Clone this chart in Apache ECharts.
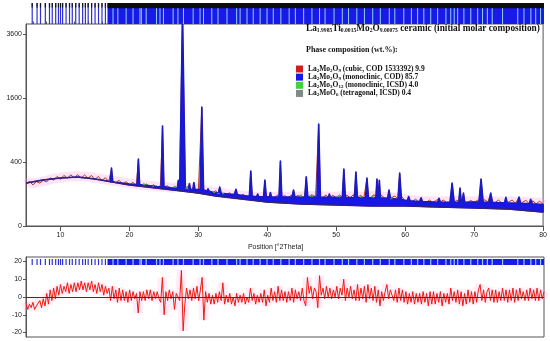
<!DOCTYPE html>
<html>
<head>
<meta charset="utf-8">
<script src="https://cdn.jsdelivr.net/npm/echarts@6.0.0/dist/echarts.min.js"></script>
<style>
html,body{margin:0;padding:0;background:#ffffff;}
#chart{width:550px;height:341px;}
</style>
</head>
<body>
<div id="chart"></div>
<script>
// ===== data =====
const xTickLabels = [10, 20, 30, 40, 50, 60, 70, 80];
const xMinorTicks = [6, 8, 12, 14, 16, 18, 22, 24, 26, 28, 32, 34, 36, 38, 42, 44, 46, 48, 52, 54, 56, 58, 62, 64, 66, 68, 72, 74, 76, 78];
const yTickLabels = [0, 400, 1600, 3600];
const diffTickLabels = [-20, -10, 0, 10, 20];

const titleFormula = 'La1.9985Ti0.0015Mo2O9.00075';
const titleText = ' ceramic (initial molar composition)';
const phaseHeading = 'Phase composition (wt.%):';
const phaseFormulas = ['La2Mo2O9', 'La2Mo2O9', 'La2Mo3O12', 'La2MoO6'];
const phaseNotes = [' (cubic, COD 1533392) 9.9', ' (monoclinic, COD) 85.7', ' (monoclinic, ICSD) 4.0', ' (tetragonal, ICSD) 0.4'];

// background curve (counts)
const bgTheta  = [5, 7.5, 10, 12.5, 15, 17.5, 20, 22.5, 25, 27.5, 30, 32.5, 35, 37.5, 40, 45, 50, 55, 60, 65, 70, 75, 80];
const bgCounts = [180, 207, 225, 234, 216, 189, 164, 149, 134, 120, 106, 88, 77, 66, 56, 47, 43, 39, 39, 35, 32, 28, 19];

// calculated profile floor between reflections (counts)
const floorTheta  = [5, 7.5, 10, 12.5, 15, 17, 18, 20, 22, 24, 26, 28.2, 30, 32, 34, 36, 38, 40, 42.5, 44.5, 46.5, 48, 50, 53.6, 55, 58.5, 60, 61.5, 63.5, 65.5, 69.5, 73.5, 75.5, 77.5, 79, 80];
const floorCounts = [180, 207, 225, 234, 216, 196, 186, 172, 163, 152, 143, 135, 130, 112, 102, 94, 86, 83, 82, 82, 82, 80, 80, 78, 77, 72, 64, 60, 57, 55, 56, 53, 51, 49, 47, 45];

// main reflections: position, calculated top, observed top, foot level, half width (deg)
const peakTheta = [17.4, 21.3, 24.8, 27.1, 27.7, 28.7, 29.35, 30.5, 31.4, 33.1, 35.45, 37.6, 38.6, 39.65, 40.45, 41.9, 43.8, 45.65, 47.45, 49.0, 51.1, 52.85, 54.45, 55.9, 56.25, 57.65, 59.2, 60.5, 62.3, 64.9, 66.8, 67.95, 68.45, 71.0, 72.4, 74.6, 76.5, 78.2];
const peakCalc  = [329, 438, 977, 205, 4400, 175, 185, 1383, 135, 148, 132, 295, 100, 207, 110, 413, 127, 234, 1016, 100, 317, 285, 225, 215, 205, 127, 274, 85, 78, 75, 180, 141, 106, 216, 106, 80, 82, 70];
const peakObs   = [320, 425, 960, 200, 4300, 170, 180, 1350, 130, 145, 128, 290, 98, 200, 108, 405, 124, 240, 1000, 98, 310, 280, 220, 210, 200, 124, 268, 82, 76, 72, 176, 138, 104, 212, 104, 78, 80, 68];
const peakBase  = [190, 168, 150, 140, 140, 132, 130, 128, 118, 105, 96, 86, 84, 82, 82, 82, 82, 82, 82, 80, 80, 78, 78, 78, 78, 75, 70, 62, 58, 55, 55, 55, 55, 56, 55, 52, 50, 48];
const peakHalf  = [0.18, 0.18, 0.2, 0.15, 0.4, 0.15, 0.15, 0.25, 0.15, 0.2, 0.2, 0.2, 0.15, 0.2, 0.15, 0.2, 0.2, 0.22, 0.25, 0.15, 0.22, 0.22, 0.22, 0.15, 0.15, 0.2, 0.25, 0.2, 0.2, 0.2, 0.3, 0.18, 0.18, 0.3, 0.25, 0.2, 0.25, 0.2];

// observed counts between reflections, 5.0 .. 80.0 deg, step 0.5
const obsStart = 5, obsStep = 0.5;
const obsCounts = [
  172, 195, 165, 192, 180, 204, 190, 226, 205, 240, 212, 250, 222, 256, 226, 258, 224, 254, 222, 250,
  210, 240, 200, 228, 192, 214, 184, 204, 172, 192, 166, 186, 158, 176, 152, 172, 148, 166, 142, 160,
  140, 158, 134, 150, 150, 170, 136, 152, 134, 150, 126, 142, 112, 130, 104, 120, 100, 116, 92, 108,
  88, 102, 84, 98, 80, 94, 78, 92, 76, 90, 76, 92, 78, 94, 76, 90, 78, 94, 76, 92,
  80, 96, 82, 94, 84, 98, 78, 94, 76, 92, 78, 94, 80, 94, 78, 96, 76, 92, 78, 94,
  80, 96, 84, 94, 76, 92, 72, 88, 70, 84, 62, 76, 58, 70, 56, 68, 52, 66, 54, 64,
  52, 66, 54, 68, 58, 66, 56, 70, 52, 64, 54, 66, 60, 68, 56, 68, 52, 66, 52, 64,
  54, 66, 50, 64, 52, 64, 50, 62, 48, 60, 46
];

// minor phases (small reflections): position, top, foot
const greenTheta = [22.1, 23.4, 26.6, 28.3, 32.3, 33.6, 44.9, 46.4, 50.3, 53.6, 55.3, 58.0];
const greenTop   = [178, 165, 158, 150, 122, 115, 96, 98, 92, 90, 90, 84];
const greenBase  = [160, 150, 142, 134, 110, 102, 82, 82, 80, 78, 77, 73];
const grayTheta = [28.4, 32.9];
const grayTop   = [142, 110];
const grayBase  = [135, 104];

// difference curve, 5.00 .. 80.00 deg, step 0.25
const diffStart = 5, diffStep = 0.25;
const diffValues = [
  -3,-7,-4,-6, -3,-7,-5,-6, -2,-6,-1,-5, 2,-4,4,-2, 5,-1,6,1,
  7,2,6,3, 8,2,7,3, 8,3,8,4, 9,4,8,3, 8,4,9,3,
  7,2,8,3, 7,1,6,2, 5,-2,6,-1, 4,-3,5,-2, 4,-2,3,-3,
  4,-2,3,-1, 2,-9,3,-2, 3,-2,4,-1, 4,-2,3,-1, 3,-1,-3,11,
  -10,3,-2,4, -1,3,-7,2, 3,-2,15,-19, -4,5,-1,4, -2,5,-1,6,
  -2,4,11,-13, 3,-3,2,-4, 1,-4,2,-3, 3,-2,8,-4, 1,-3,2,-4,
  0,-5,2,-3, 1,-3,2,-4, 0,-3,5,-2, 2,-4,1,-3, 2,-3,4,-5,
  1,-3,5,-2, 3,-3,6,-2, 4,-2,3,-3, 3,-2,5,-3, 4,-1,3,-2,
  5,-2,-5,11, 2,6,-1,5, 3,-6,12,1, 5,-1,6,0, 5,-1,4,0,
  6,-1,5,1, 10,-2,5,0, 6,-1,4,-2, 7,-2,5,-1, 6,-3,7,-1,
  5,-2,6,-3, 4,-5,3,-2, 3,7,-1,4, 5,-2,4,-3, 5,-2,4,-3,
  3,-4,2,-3, 3,-4,2,-3, 2,-4,3,-3, 2,-5,3,-4, 3,-4,2,-3,
  3,-5,2,-3, 2,-4,5,-2, 3,-3,4,-4, 3,-5,2,-4, 4,-3,3,-4,
  3,-3,4,7, -2,4,-3,3, 5,-2,4,-3, 4,-3,3,-2, 5,-2,4,-3,
  4,-2,5,-3, 4,-2,5,-1, 3,-2,4,-2, 5,-1,4,-2, 5,-2,4,-1,
  3
];

// reflection marker strips
const reflSparse = [5.9, 6.6, 7.1, 7.8, 8.4, 8.8, 9.3, 9.7, 10.0, 10.3, 10.8, 11.3, 11.7, 12.2, 12.7, 13.2, 13.6, 14.0, 14.5, 15.0, 15.5, 16.0, 16.5];
const reflDenseRange = [16.8, 80];
const reflGaps = [17.6, 18.3, 19.5, 20.5, 21.5, 21.7, 22.4, 23.9, 24.4, 24.9, 26.3, 27.0, 27.8, 29.2, 30.2, 30.7, 31.9, 32.8, 34.1, 35.5, 36.0, 37.0, 37.9, 38.9, 39.9,
  40.8, 41.9, 43.1, 44.0, 45.2, 46.4, 47.5, 48.3, 49.6, 50.8, 51.7, 52.9, 54.0, 55.2, 56.3, 57.6, 58.4, 59.7, 60.8, 61.7,
  62.6, 63.6, 64.6, 65.8, 66.5, 67.0, 67.5, 68.4, 69.4, 70.4, 71.1, 71.8, 72.5, 74.0, 76.2, 77.1, 78.1, 78.8, 79.5];

// ===== assembly =====
const sq = v => Math.sqrt(Math.max(v, 0));
function nearPeak(x) {
  return peakTheta.some((p, j) => Math.abs(x - p) <= peakHalf[j] + 1e-9);
}
const calcPts = [];
floorTheta.forEach((x, i) => { if (!nearPeak(x)) calcPts.push([x, floorCounts[i]]); });
peakTheta.forEach((p, j) => {
  calcPts.push([p - peakHalf[j], peakBase[j]], [p, peakCalc[j]], [p + peakHalf[j], peakBase[j]]);
});
calcPts.sort((a, b) => a[0] - b[0]);

const obsGrid = obsCounts.map((c, i) => [obsStart + i * obsStep, c]);
const obsPts = obsGrid.filter(p => !nearPeak(p[0]));
peakTheta.forEach((p, j) => {
  obsPts.push([p - peakHalf[j], peakBase[j]], [p, peakObs[j]], [p + peakHalf[j], peakBase[j]]);
});
obsPts.sort((a, b) => a[0] - b[0]);

function spikes(theta, top, base, hw) {
  const out = [];
  theta.forEach((p, j) => {
    out.push([p - hw, sq(base[j])], [p, sq(top[j])], [p + hw, sq(base[j])], [p + hw, null]);
  });
  return out;
}

const diffPts = diffValues.map((v, i) => [diffStart + i * diffStep, v]);

function richFormula(f, el, sub) {
  return f.replace(/([A-Z][a-z]?)([0-9.]*)/g, (m, e, n) => '{' + el + '|' + e + '}' + (n ? '{' + sub + '|' + n + '}' : ''));
}
const phaseNames = phaseFormulas.map((f, i) => f + phaseNotes[i]);
const phaseColors = ['#d41c1c', '#1616e8', '#3fd23f', '#7f8a8a'];

const serif = "'Liberation Serif', 'Times New Roman', serif";
const sans = "'Liberation Sans', Arial, sans-serif";

function tickItem(color, darkTop) {
  return function (params, api) {
    const a = api.coord([api.value(0), 1]);
    const b = api.coord([api.value(0), 0]);
    const h = b[1] - a[1];
    const kids = [{ type: 'rect', shape: { x: a[0] - 0.6, y: a[1], width: 1.2, height: h }, style: { fill: color } }];
    if (darkTop) kids.push({ type: 'rect', shape: { x: a[0] - 0.6, y: a[1], width: 1.2, height: h * 0.22 }, style: { fill: '#151515' } });
    return { type: 'group', children: kids };
  };
}
function bandItem(darkTop) {
  return function (params, api) {
    const a = api.coord([api.value(0), 1]);
    const b = api.coord([api.value(1), 0]);
    const kids = [{ type: 'rect', shape: { x: a[0], y: a[1], width: b[0] - a[0], height: b[1] - a[1] }, style: { fill: '#1a1ae8' } }];
    if (darkTop) kids.push({ type: 'rect', shape: { x: a[0], y: a[1], width: b[0] - a[0], height: (b[1] - a[1]) * 0.25 }, style: { fill: '#0c0c0c' } });
    return { type: 'group', children: kids };
  };
}

const chart = echarts.init(document.getElementById('chart'), null, { renderer: 'canvas' });

const hiddenX = (grid) => ({ type: 'value', gridIndex: grid, min: 5, max: 80, show: false });
const hiddenY = (grid) => ({ type: 'value', gridIndex: grid, min: 0, max: 1, show: false });

const option = {
  animation: false,
  backgroundColor: '#ffffff',
  title: {
    left: 306, top: 23, padding: 0,
    text: richFormula(titleFormula, 'T', 'S') + '{T|' + titleText + '}',
    textStyle: {
      rich: {
        T: { fontFamily: serif, fontWeight: 'bold', fontSize: 9.3, color: '#111', lineHeight: 11 },
        S: { fontFamily: serif, fontWeight: 'bold', fontSize: 5.6, color: '#111', lineHeight: 6, verticalAlign: 'bottom' }
      }
    },
    subtext: phaseHeading,
    itemGap: 13,
    subtextStyle: { fontFamily: serif, fontWeight: 'bold', fontSize: 8, color: '#111' }
  },
  legend: {
    orient: 'vertical', left: 296, top: 65, padding: 0,
    itemWidth: 7, itemHeight: 7, itemGap: 0, icon: 'rect', selectedMode: false,
    data: phaseNames.map((n, i) => ({ name: n, itemStyle: { color: phaseColors[i] } })),
    formatter: function (name) {
      const i = phaseNames.indexOf(name);
      return richFormula(phaseFormulas[i], 't', 's') + '{t|' + phaseNotes[i] + '}';
    },
    textStyle: {
      rich: {
        t: { fontFamily: serif, fontWeight: 'bold', fontSize: 7.5, color: '#111', lineHeight: 8.3 },
        s: { fontFamily: serif, fontWeight: 'bold', fontSize: 5, color: '#111', lineHeight: 5, verticalAlign: 'bottom' }
      }
    }
  },
  grid: [
    { left: 26, right: 6, top: 24, height: 202, show: true, borderColor: '#555', borderWidth: 1, backgroundColor: 'transparent' },
    { left: 26, right: 6, top: 3, height: 21 },
    { left: 26, right: 6, top: 257, height: 80, show: true, borderColor: '#555', borderWidth: 1, backgroundColor: 'transparent' },
    { left: 26, right: 6, top: 259, height: 6 }
  ],
  xAxis: [
    {
      type: 'value', gridIndex: 0, min: 5, max: 80,
      axisLine: { show: true, lineStyle: { color: '#555' } },
      axisTick: { show: true, customValues: xTickLabels, length: 5, lineStyle: { color: '#555' } },
      axisLabel: { customValues: xTickLabels, fontFamily: sans, fontSize: 7, color: '#222', margin: 6 },
      splitLine: { show: false },
      name: 'Position [°2Theta]', nameLocation: 'middle', nameGap: 15,
      nameTextStyle: { fontFamily: sans, fontSize: 7, color: '#222', padding: [0, 18, 0, 0] }
    },
    {
      type: 'value', gridIndex: 0, min: 5, max: 80,
      axisLine: { show: false },
      axisTick: { show: true, customValues: xMinorTicks, length: 2.5, lineStyle: { color: '#555' } },
      axisLabel: { show: false }, splitLine: { show: false }
    },
    hiddenX(1),
    {
      type: 'value', gridIndex: 2, min: 5, max: 80,
      axisLine: { show: true, lineStyle: { color: '#555' } },
      axisTick: { show: false }, axisLabel: { show: false }, splitLine: { show: false }
    },
    hiddenX(3)
  ],
  yAxis: [
    {
      type: 'value', gridIndex: 0, min: 0, max: 63.125,
      axisLine: { show: true, lineStyle: { color: '#555' } },
      axisTick: { show: true, customValues: yTickLabels.map(sq), length: 3, lineStyle: { color: '#555' } },
      axisLabel: { customValues: yTickLabels.map(sq), fontFamily: sans, fontSize: 7, color: '#222', margin: 4,
        formatter: v => String(Math.round(v * v)) },
      splitLine: { show: false }
    },
    hiddenY(1),
    {
      type: 'value', gridIndex: 2, min: -22.5, max: 22.5,
      axisLine: { show: true, lineStyle: { color: '#555' } },
      axisTick: { show: true, customValues: diffTickLabels, length: 3, lineStyle: { color: '#555' } },
      axisLabel: { customValues: diffTickLabels, fontFamily: sans, fontSize: 7, color: '#222', margin: 4 },
      splitLine: { show: false }
    },
    hiddenY(3)
  ],
  series: [
    {
      name: 'obsHalo', type: 'line', xAxisIndex: 0, yAxisIndex: 0, silent: true, z: 1,
      data: obsGrid.map(p => [p[0], sq(p[1])]), showSymbol: false,
      lineStyle: { color: 'rgba(255,150,215,0.28)', width: 9 }
    },
    {
      name: phaseNames[0], type: 'line', xAxisIndex: 0, yAxisIndex: 0, z: 2,
      data: obsPts.map(p => [p[0], sq(p[1])]), showSymbol: false,
      color: phaseColors[0],
      lineStyle: { color: '#b23a1c', width: 1 }
    },
    {
      name: phaseNames[1], type: 'custom', xAxisIndex: 0, yAxisIndex: 0, z: 3, clip: true,
      data: [[5, 0]], itemStyle: { color: phaseColors[1] },
      renderItem: function (params, api) {
        const pts = calcPts.map(p => api.coord([p[0], sq(p[1])]));
        for (let i = bgTheta.length - 1; i >= 0; i--) pts.push(api.coord([bgTheta[i], sq(bgCounts[i])]));
        return { type: 'polygon', shape: { points: pts }, style: { fill: '#1717e6', stroke: '#1a1ac4', lineWidth: 1.6, lineJoin: 'round' } };
      }
    },
    {
      name: phaseNames[2], type: 'line', xAxisIndex: 0, yAxisIndex: 0, z: 4,
      data: spikes(greenTheta, greenTop, greenBase, 0.15), showSymbol: false, connectNulls: false,
      color: phaseColors[2], lineStyle: { color: '#35c035', width: 1 }
    },
    {
      name: phaseNames[3], type: 'line', xAxisIndex: 0, yAxisIndex: 0, z: 4,
      data: spikes(grayTheta, grayTop, grayBase, 0.15), showSymbol: false, connectNulls: false,
      color: phaseColors[3], lineStyle: { color: '#7f8a8a', width: 1 }
    },
    {
      name: 'background', type: 'line', xAxisIndex: 0, yAxisIndex: 0, z: 5,
      data: bgTheta.map((x, i) => [x, sq(bgCounts[i])]), showSymbol: false,
      lineStyle: { color: '#3a2270', width: 1.2 }
    },
    // top reflection strip
    {
      name: 'reflBandTop', type: 'custom', xAxisIndex: 2, yAxisIndex: 1, z: 1, silent: true,
      data: [[reflDenseRange[0], reflDenseRange[1]]], renderItem: bandItem(true)
    },
    {
      name: 'reflSparseTop', type: 'custom', xAxisIndex: 2, yAxisIndex: 1, z: 2, silent: true,
      data: reflSparse.map(v => [v, 0]), renderItem: tickItem('#3030d8', true)
    },
    {
      name: 'reflGapTop', type: 'custom', xAxisIndex: 2, yAxisIndex: 1, z: 2, silent: true,
      data: reflGaps.map(v => [v, 0]), renderItem: (params, api) => {
        const a = api.coord([api.value(0), 0.75]);
        const b = api.coord([api.value(0), 0]);
        return { type: 'rect', shape: { x: a[0] - 0.5, y: a[1], width: 1, height: b[1] - a[1] }, style: { fill: '#8fd0f0' } };
      }
    },
    // bottom reflection strip
    {
      name: 'reflBandBottom', type: 'custom', xAxisIndex: 4, yAxisIndex: 3, z: 1, silent: true,
      data: [[reflDenseRange[0], reflDenseRange[1]]], renderItem: bandItem(false)
    },
    {
      name: 'reflSparseBottom', type: 'custom', xAxisIndex: 4, yAxisIndex: 3, z: 2, silent: true,
      data: reflSparse.map(v => [v, 0]), renderItem: tickItem('#3030d8', false)
    },
    {
      name: 'reflGapBottom', type: 'custom', xAxisIndex: 4, yAxisIndex: 3, z: 2, silent: true,
      data: reflGaps.map(v => [v, 0]), renderItem: tickItem('#8fd0f0', false)
    },
    // difference plot
    {
      name: 'diffHalo', type: 'line', xAxisIndex: 3, yAxisIndex: 2, silent: true, z: 1,
      data: diffPts, showSymbol: false,
      lineStyle: { color: 'rgba(255,160,220,0.2)', width: 9 }
    },
    {
      name: 'difference', type: 'line', xAxisIndex: 3, yAxisIndex: 2, z: 2,
      data: diffPts, showSymbol: false,
      lineStyle: { color: '#ee1a10', width: 1 },
      markLine: {
        silent: true, symbol: ['none', 'none'], label: { show: false },
        lineStyle: { color: '#5a2a1a', width: 1, type: 'solid' },
        data: [{ yAxis: 0 }]
      }
    }
  ]
};
chart.setOption(option);
</script>
</body>
</html>
